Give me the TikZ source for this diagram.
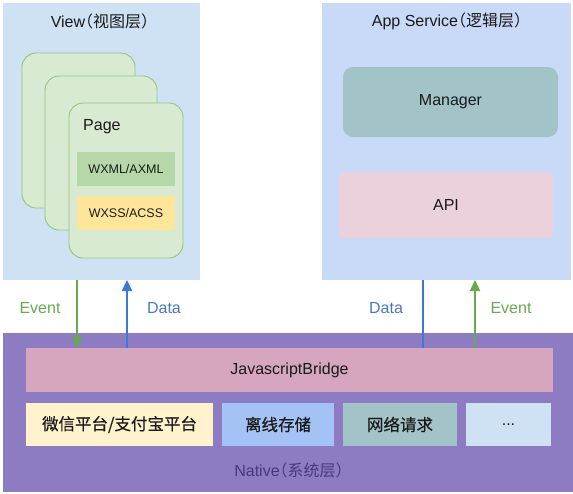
\documentclass[tikz,border=0pt]{standalone}
\usepackage{fontspec}
\setmainfont{Liberation Sans}
\newfontfamily\cjk[RawFeature=+halt]{Noto Sans CJK SC}
\newfontfamily\cjkb[FakeBold=0.5]{Noto Sans CJK SC}
\usetikzlibrary{arrows.meta}
\definecolor{viewbg}{HTML}{CFE2F3}
\definecolor{appbg}{HTML}{C9DAF8}
\definecolor{nativebg}{HTML}{8E7CC3}
\definecolor{cardfill}{HTML}{D9EAD3}
\definecolor{carddraw}{HTML}{93C47D}
\definecolor{wxml}{HTML}{B6D7A8}
\definecolor{wxss}{HTML}{FFE599}
\definecolor{manager}{HTML}{A2C4C9}
\definecolor{api}{HTML}{EAD1DC}
\definecolor{bridge}{HTML}{D5A6BD}
\definecolor{wx}{HTML}{FFF2CC}
\definecolor{offline}{HTML}{A4C2F4}
\definecolor{net}{HTML}{A2C4C9}
\definecolor{more}{HTML}{CFE2F3}
\definecolor{evtgreen}{HTML}{6AA84F}
\definecolor{datablue}{HTML}{3C78D8}
\definecolor{datatext}{HTML}{4A7AB5}
\definecolor{nativetext}{HTML}{46397A}
\definecolor{txt}{HTML}{1A1A1A}
\begin{document}
\begin{tikzpicture}[x=1pt,y=-1pt,
  box/.style={anchor=north west, inner sep=0pt, outer sep=0pt, draw=none},
  card/.style={box, fill=cardfill, draw=carddraw, line width=0.9pt, rounded corners=14pt},
  lbl/.style={text=txt, inner sep=0pt, font=\fontsize{16}{19}\selectfont},
  small/.style={text=txt, font=\fontsize{12.5}{15}\selectfont},
  cjkl/.style={text=txt, font=\fontsize{16.5}{19}\cjkb},
  evt/.style={draw=evtgreen, line width=2.3pt, -{Triangle[length=11pt,width=10pt]}},
  dat/.style={draw=datablue, line width=2.3pt, -{Triangle[length=11pt,width=10pt]}},
  datl/.style={draw=datablue, line width=2.3pt}
]
\useasboundingbox (0,0) rectangle (573,493);
\fill[white] (0,0) rectangle (573,493);

% layers
\node[box, fill=viewbg, minimum width=197pt, minimum height=277pt] (view) at (3,3) {};
\node[box, fill=appbg, minimum width=249pt, minimum height=277pt] (app) at (322,3) {};
\node[box, fill=nativebg, minimum width=570pt, minimum height=159pt] (native) at (3,333) {};

\node[lbl] (viewt) at (100,21) {View{\cjk （视图层）}};
\node[lbl] (appt) at (447,21) {App Service{\cjk （逻辑层）}};

% pages
\node[card, minimum width=113pt, minimum height=155pt] (c1) at (22,53) {};
\node[card, minimum width=112pt, minimum height=154pt] (c2) at (45,76) {};
\node[card, minimum width=114pt, minimum height=155pt] (c3) at (69,103) {};
\node[lbl, anchor=west] (page) at (83,127) {Page};
\node[box, fill=wxml, minimum width=98pt, minimum height=34pt] (wxmlb) at (77,152) {};
\node[small] at (wxmlb.center) {WXML/AXML};
\node[box, fill=wxss, minimum width=98pt, minimum height=34pt] (wxssb) at (77,196) {};
\node[small] at (wxssb.center) {WXSS/ACSS};

% app service
\node[box, fill=manager, rounded corners=10pt, minimum width=215pt, minimum height=70pt] (mgr) at (343,67) {};
\node[lbl] at (mgr.center) {Manager};
\node[box, fill=api, rounded corners=5pt, minimum width=214pt, minimum height=66pt] (apib) at (339,172) {};
\node[lbl] at (apib.center) {API};

% native
\node[box, fill=bridge, minimum width=527pt, minimum height=44pt] (jsb) at (26,348) {};
\node[lbl] at (jsb.center) {JavascriptBridge};
\node[box, fill=wx, minimum width=187pt, minimum height=43pt] (wxb) at (26,403) {};
\node[cjkl] at (wxb.center) {微信平台/支付宝平台};
\node[box, fill=offline, minimum width=112pt, minimum height=43pt] (offb) at (222,403) {};
\node[cjkl] at (offb.center) {离线存储};
\node[box, fill=net, minimum width=114pt, minimum height=43pt] (netb) at (343,403) {};
\node[cjkl] at (netb.center) {网络请求};
\node[box, fill=more, minimum width=85pt, minimum height=43pt] (moreb) at (466,403) {};
\node[lbl] at (moreb.center) {...};
\node[lbl, text=nativetext] (nativet) at (289,470) {Native{\cjk （系统层）}};

% connectors
\coordinate (x1) at (77,0);
\coordinate (x2) at (127,0);
\coordinate (x3) at (423,0);
\coordinate (x4) at (475,0);
\draw[evt] (view.south -| x1) -- (jsb.north -| x1);
\draw[dat] (jsb.north -| x2) -- (view.south -| x2);
\draw[datl] (app.south -| x3) -- (jsb.north -| x3);
\draw[evt] (jsb.north -| x4) -- (app.south -| x4);

\node[lbl, text=evtgreen] (e1) at (40,308) {Event};
\node[lbl, text=datatext] (d1) at (164,308) {Data};
\node[lbl, text=datatext] (d2) at (386,308) {Data};
\node[lbl, text=evtgreen] (e2) at (511,308) {Event};
\end{tikzpicture}
\end{document}
